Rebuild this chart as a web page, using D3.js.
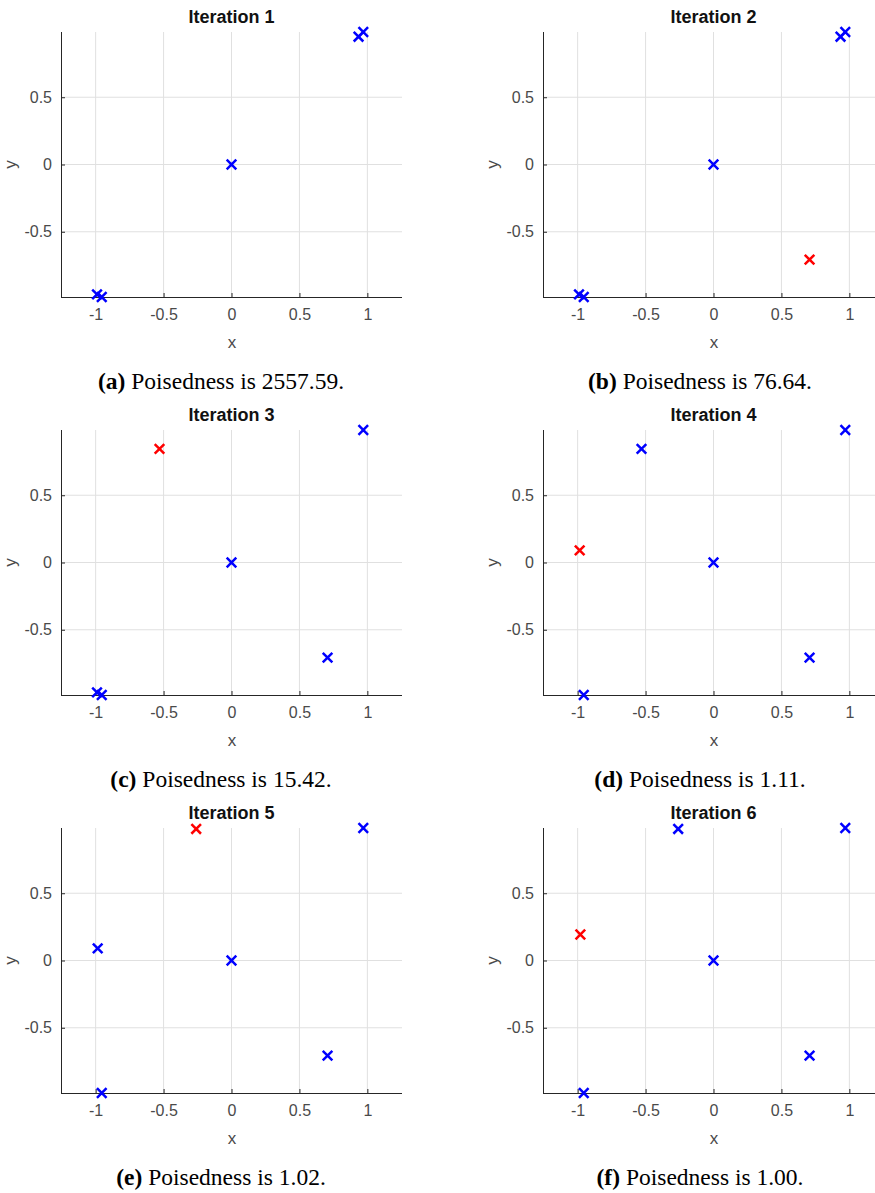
<!DOCTYPE html>
<html>
<head>
<meta charset="utf-8">
<script src="https://cdn.jsdelivr.net/npm/d3@7"></script>
<style>
  html, body { margin: 0; padding: 0; background: #fff; }
  svg { display: block; }
</style>
</head>
<body>
<svg id="chart" width="875" height="1193"></svg>
<script>
// ---------------- data ----------------
const iterationNumbers = [1, 2, 3, 4, 5, 6];
const captionLetters = ["a", "b", "c", "d", "e", "f"];
const poisednessValues = ["2557.59", "76.64", "15.42", "1.11", "1.02", "1.00"];
const xTickValues = [-1, -0.5, 0, 0.5, 1];
const yTickValues = [-0.5, 0, 0.5];
const xLimits = [-1.255, 1.255];
const yLimits = [-0.985, 0.985];

// blue = existing sample points, red = newly added point
const iter1Blue = [[0, 0], [0.935, 0.95], [0.97, 0.985], [-0.99, -0.965], [-0.955, -0.985]];
const iter1Red = [];
const iter2Blue = [[0, 0], [0.935, 0.95], [0.97, 0.985], [-0.99, -0.965], [-0.955, -0.985]];
const iter2Red = [[0.707, -0.707]];
const iter3Blue = [[0, 0], [0.97, 0.985], [0.707, -0.707], [-0.99, -0.965], [-0.955, -0.985]];
const iter3Red = [[-0.53, 0.845]];
const iter4Blue = [[0, 0], [0.97, 0.985], [0.707, -0.707], [-0.53, 0.845], [-0.955, -0.985]];
const iter4Red = [[-0.985, 0.09]];
const iter5Blue = [[0, 0], [0.97, 0.985], [0.707, -0.707], [-0.985, 0.09], [-0.955, -0.985]];
const iter5Red = [[-0.26, 0.978]];
const iter6Blue = [[0, 0], [0.97, 0.985], [0.707, -0.707], [-0.26, 0.978], [-0.955, -0.985]];
const iter6Red = [[-0.98, 0.193]];

const bluePoints = [iter1Blue, iter2Blue, iter3Blue, iter4Blue, iter5Blue, iter6Blue];
const redPoints = [iter1Red, iter2Red, iter3Red, iter4Red, iter5Red, iter6Red];

// ---------------- layout ----------------
const colLeft = [61, 543];
const rowTop = [32, 430, 828];
const plotW = 341;
const plotH = 265;
const captionX = [221, 700];

const svg = d3.select("#chart");
const sansFont = "'Liberation Sans', Arial, Helvetica, sans-serif";
const serifFont = "'Liberation Serif', 'Times New Roman', serif";
const axisColor = "#262626";
const labelColor = "#4a4a4a";
const gridColor = "#e0e0e0";

iterationNumbers.forEach((it, i) => {
  const col = i % 2, row = Math.floor(i / 2);
  const g = svg.append("g").attr("transform", `translate(${colLeft[col]},${rowTop[row]})`);

  const x = d3.scaleLinear().domain(xLimits).range([0, plotW]);
  const y = d3.scaleLinear().domain(yLimits).range([plotH, 0]);

  // grid
  g.append("g").selectAll("line").data(xTickValues).join("line")
    .attr("x1", d => x(d)).attr("x2", d => x(d))
    .attr("y1", 0).attr("y2", plotH)
    .attr("stroke", gridColor).attr("stroke-width", 1);
  g.append("g").selectAll("line").data(yTickValues).join("line")
    .attr("x1", 0).attr("x2", plotW)
    .attr("y1", d => y(d)).attr("y2", d => y(d))
    .attr("stroke", gridColor).attr("stroke-width", 1);

  // axes (ticks inward)
  const fmt = d => (d < 0 ? "-" : "") + d3.format("")(Math.abs(d));
  const xAxis = d3.axisBottom(x).tickValues(xTickValues).tickSize(-4).tickPadding(12).tickFormat(fmt);
  const yAxis = d3.axisLeft(y).tickValues(yTickValues).tickSize(-4).tickPadding(9).tickFormat(fmt);

  const gx = g.append("g").attr("transform", `translate(0,${plotH})`).call(xAxis);
  const gy = g.append("g").call(yAxis);
  [gx, gy].forEach(a => {
    a.select(".domain").attr("stroke", axisColor).attr("stroke-width", 1);
    a.selectAll(".tick line").attr("stroke", axisColor);
    a.selectAll(".tick text").attr("fill", labelColor)
      .style("font-family", sansFont).style("font-size", "16px");
  });
  gx.select(".domain").attr("d", `M0,0.5H${plotW}`);
  gy.select(".domain").attr("d", `M0.5,0V${plotH}`);

  // axis labels
  g.append("text").attr("x", plotW / 2 + 0.5).attr("y", plotH + 51)
    .attr("text-anchor", "middle").attr("fill", labelColor)
    .style("font-family", sansFont).style("font-size", "17px").text("x");
  g.append("text").attr("transform", `translate(-45,${y(0)}) rotate(-90)`)
    .attr("text-anchor", "middle").attr("fill", labelColor)
    .style("font-family", sansFont).style("font-size", "17px").text("y");

  // title
  g.append("text").attr("x", plotW / 2).attr("y", -9)
    .attr("text-anchor", "middle").attr("fill", "#111")
    .style("font-family", sansFont).style("font-size", "18px").style("font-weight", "bold")
    .text("Iteration " + it);

  // markers
  const cross = (sel, color) => {
    sel.each(function(d) {
      const s = 4.8;
      const cx = x(d[0]), cy = y(d[1]);
      d3.select(this).attr("d", `M${cx - s},${cy - s}L${cx + s},${cy + s}M${cx - s},${cy + s}L${cx + s},${cy - s}`)
        .attr("stroke", color).attr("stroke-width", 2.5).attr("fill", "none");
    });
  };
  g.append("g").selectAll("path").data(bluePoints[i]).join("path").call(cross, "#0000ff");
  g.append("g").selectAll("path").data(redPoints[i]).join("path").call(cross, "#ff0000");

  // caption
  const cap = svg.append("text").attr("x", captionX[col]).attr("y", rowTop[row] + 357)
    .attr("text-anchor", "middle").attr("fill", "#000")
    .style("font-family", serifFont).style("font-size", "23.5px");
  cap.append("tspan").style("font-weight", "bold").text("(" + captionLetters[i] + ")");
  cap.append("tspan").text(" Poisedness is " + poisednessValues[i] + ".");
});
</script>
</body>
</html>
